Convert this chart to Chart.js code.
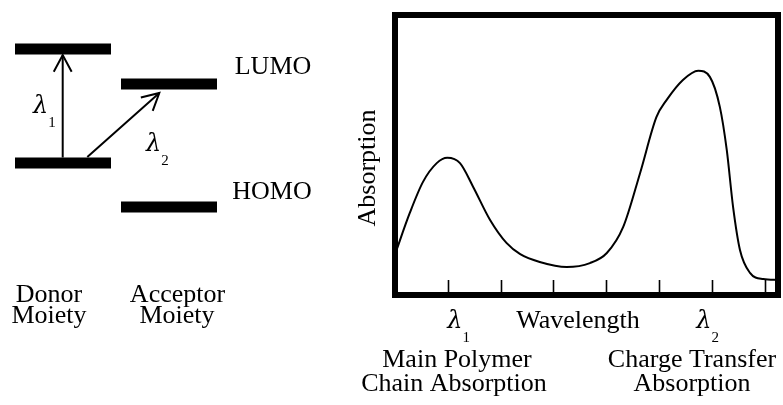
<!DOCTYPE html>
<html>
<head>
<meta charset="utf-8">
<script src="https://cdn.jsdelivr.net/npm/chart.js@4.4.1/dist/chart.umd.min.js"></script>
<style>
  html, body { margin: 0; padding: 0; background: #fff; }
  #wrap { position: relative; width: 783px; height: 405px; overflow: hidden; }
  canvas { position: absolute; top: 0; }
  #levels { left: 0; }
  #spectrum { left: 340px; }
</style>
</head>
<body>
<div id="wrap">
  <canvas id="levels" width="340" height="405"></canvas>
  <canvas id="spectrum" width="443" height="405"></canvas>
</div>
<script>
// energy levels (arbitrary units) and their horizontal extent
const levelNames = ['Donor LUMO', 'Donor HOMO', 'Acceptor LUMO', 'Acceptor HOMO'];
const levelEnergy = [35.6, 24.2, 32.1, 19.8];
const levelFrom = [1.5, 1.5, 12.1, 12.1];
const levelTo = [11.1, 11.1, 21.7, 21.7];

// transitions: lambda1 inside the donor, lambda2 from donor to acceptor
const lambda1X = [6.27, 6.27];
const lambda1E = [24.75, 35.0];
const lambda2X = [8.73, 15.93];
const lambda2E = [24.8, 31.2];

// absorption spectrum
const wavelength = [0.00, 0.28, 0.53, 0.79, 0.99, 1.23, 1.48, 1.80, 2.11, 2.37, 2.74, 3.25, 3.69, 4.01,
  4.32, 4.64, 4.95, 5.14, 5.45, 5.74, 5.96, 6.15, 6.28, 6.40, 6.53, 6.72, 6.97, 7.25];
const absorption = [1.45, 2.93, 4.04, 4.71, 4.90, 4.71, 3.86, 2.68, 1.86, 1.46, 1.18, 1.00, 1.14, 1.50,
  2.43, 4.36, 6.36, 6.96, 7.68, 8.01, 7.79, 6.71, 5.18, 3.14, 1.61, 0.79, 0.57, 0.54];
const wavelengthTicks = [1, 2, 3, 4, 5, 6, 7];
const peakWavelength = [0.99, 5.74];

const SERIF = '"Liberation Serif", "Times New Roman", serif';

// italic lambda with a small subscript
function lambda(ctx, x, y, sub) {
  ctx.textAlign = 'left';
  ctx.font = 'italic 24px "DejaVu Serif", serif';
  ctx.fillText('\u03bb', x, y);
  const w = ctx.measureText('\u03bb').width;
  ctx.font = '15px ' + SERIF;
  ctx.fillText(sub, x + w, y + 14);
}

const levelDecor = {
  id: 'levelDecor',
  afterDatasetsDraw(chart) {
    const ctx = chart.ctx;
    ctx.save();
    ctx.strokeStyle = '#000';
    ctx.lineWidth = 2;
    chart.data.datasets.forEach((ds, i) => {
      if (!ds.arrow) return;
      const pts = chart.getDatasetMeta(i).data;
      const a = pts[pts.length - 2], b = pts[pts.length - 1];
      const ang = Math.atan2(a.y - b.y, a.x - b.x);
      ctx.beginPath();
      ctx.moveTo(b.x + 19 * Math.cos(ang + 0.49), b.y + 19 * Math.sin(ang + 0.49));
      ctx.lineTo(b.x, b.y);
      ctx.lineTo(b.x + 19 * Math.cos(ang - 0.49), b.y + 19 * Math.sin(ang - 0.49));
      ctx.stroke();
    });

    ctx.fillStyle = '#000';
    ctx.textBaseline = 'alphabetic';
    ctx.font = '26px ' + SERIF;
    ctx.textAlign = 'center';
    ctx.fillText('LUMO', 273, 74);
    ctx.fillText('HOMO', 272, 199);
    ctx.fillText('Donor', 49, 302);
    ctx.fillText('Moiety', 49, 323);
    ctx.fillText('Acceptor', 177.5, 302);
    ctx.fillText('Moiety', 177, 323);
    lambda(ctx, 33, 113, '1');
    lambda(ctx, 146, 151, '2');
    ctx.restore();
  }
};

const levelSets = levelEnergy.map((e, i) => ({
  label: levelNames[i],
  data: [{ x: levelFrom[i], y: e }, { x: levelTo[i], y: e }],
  borderColor: '#000',
  borderWidth: 11,
  borderCapStyle: 'butt',
  pointRadius: 0
}));

new Chart(document.getElementById('levels'), {
  type: 'line',
  data: {
    datasets: levelSets.concat([
      { label: 'lambda1', arrow: true, data: lambda1X.map((x, i) => ({ x: x, y: lambda1E[i] })),
        borderColor: '#000', borderWidth: 2, pointRadius: 0 },
      { label: 'lambda2', arrow: true, data: lambda2X.map((x, i) => ({ x: x, y: lambda2E[i] })),
        borderColor: '#000', borderWidth: 2, pointRadius: 0 }
    ])
  },
  options: {
    responsive: false,
    animation: false,
    layout: { padding: 0 },
    scales: {
      x: { type: 'linear', min: 0, max: 34, display: false },
      y: { min: 0, max: 40.5, display: false }
    },
    plugins: { legend: { display: false }, tooltip: { enabled: false } }
  },
  plugins: [levelDecor]
});

const spectrumDecor = {
  id: 'spectrumDecor',
  afterDatasetsDraw(chart) {
    const ctx = chart.ctx;
    const area = chart.chartArea;
    const xs = chart.scales.x;
    ctx.save();
    ctx.strokeStyle = '#000';
    ctx.lineWidth = 6;
    ctx.strokeRect(area.left, area.top, area.right - area.left, area.bottom - area.top);

    // inward tick marks
    ctx.lineWidth = 1.6;
    ctx.beginPath();
    wavelengthTicks.forEach(v => {
      const px = Math.round(xs.getPixelForValue(v)) + 0.5;
      ctx.moveTo(px, area.bottom);
      ctx.lineTo(px, area.bottom - 15);
    });
    ctx.stroke();

    ctx.fillStyle = '#000';
    ctx.textBaseline = 'alphabetic';
    ctx.font = '26px ' + SERIF;
    ctx.textAlign = 'center';
    ctx.fillText('Wavelength', 238, 328);
    ctx.fillText('Main Polymer', 117, 367);
    ctx.fillText('Chain Absorption', 114, 391);
    ctx.fillText('Charge Transfer', 352, 367);
    ctx.fillText('Absorption', 352, 391);

    lambda(ctx, xs.getPixelForValue(peakWavelength[0]), 328, '1');
    lambda(ctx, xs.getPixelForValue(peakWavelength[1]) - 2, 328, '2');

    ctx.translate(35, (area.top + area.bottom) / 2 + 13);
    ctx.rotate(-Math.PI / 2);
    ctx.textAlign = 'center';
    ctx.font = '26px ' + SERIF;
    ctx.fillText('Absorption', 0, 0);
    ctx.restore();
  }
};

new Chart(document.getElementById('spectrum'), {
  type: 'line',
  data: {
    datasets: [{
      label: 'Absorption',
      data: wavelength.map((w, i) => ({ x: w, y: absorption[i] })),
      borderColor: '#000',
      borderWidth: 2,
      pointRadius: 0,
      cubicInterpolationMode: 'monotone',
      fill: false
    }]
  },
  options: {
    responsive: false,
    animation: false,
    layout: { padding: { left: 55, right: 5, top: 15, bottom: 110 } },
    scales: {
      x: { type: 'linear', min: 0, max: 7.25, display: false },
      y: { min: 0, max: 10, display: false }
    },
    plugins: { legend: { display: false }, tooltip: { enabled: false } }
  },
  plugins: [spectrumDecor]
});
</script>
</body>
</html>
